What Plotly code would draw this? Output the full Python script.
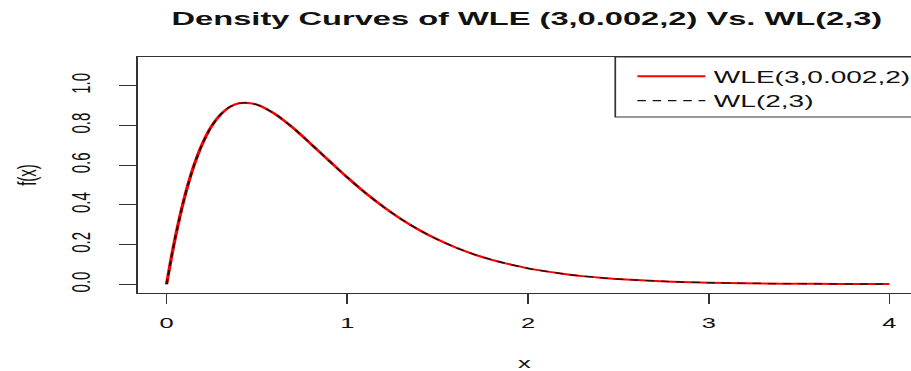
import plotly.graph_objects as go

# Density readings for both distributions
x_vals = [0, 0.025, 0.05, 0.1, 0.15, 0.2, 0.25, 0.3, 0.35, 0.4, 0.45, 0.5, 0.55,
          0.6, 0.65, 0.7, 0.75, 0.8, 0.85, 0.9, 0.95, 1.0, 1.1, 1.2, 1.3, 1.4,
          1.5, 1.6, 1.7, 1.8, 1.9, 2.0, 2.1, 2.2, 2.3, 2.4, 2.5, 2.6, 2.8, 3.0,
          3.2, 3.4, 3.6, 3.8, 4.0]
wle_density = [0, 0.128, 0.244, 0.440, 0.594, 0.711, 0.797, 0.856, 0.893, 0.911,
               0.913, 0.904, 0.884, 0.857, 0.824, 0.787, 0.747, 0.705, 0.663,
               0.621, 0.579, 0.538, 0.460, 0.390, 0.327, 0.272, 0.225, 0.185,
               0.151, 0.123, 0.100, 0.080, 0.065, 0.052, 0.041, 0.033, 0.026,
               0.021, 0.013, 0.008, 0.005, 0.003, 0.002, 0.001, 0.001]
wl_density = [0, 0.128, 0.244, 0.440, 0.594, 0.711, 0.797, 0.856, 0.893, 0.911,
              0.913, 0.904, 0.884, 0.857, 0.824, 0.787, 0.747, 0.705, 0.663,
              0.621, 0.579, 0.538, 0.460, 0.390, 0.327, 0.272, 0.225, 0.185,
              0.151, 0.123, 0.100, 0.080, 0.065, 0.052, 0.041, 0.033, 0.026,
              0.021, 0.013, 0.008, 0.005, 0.003, 0.002, 0.001, 0.001]

series_names = ["WLE(3,0.002,2)", "WL(2,3)"]
x_ticks = [0, 1, 2, 3, 4]
y_ticks = [0.0, 0.2, 0.4, 0.6, 0.8, 1.0]
y_tick_labels = ["0.0", "0.2", "0.4", "0.6", "0.8", "1.0"]

FONT = "Liberation Sans, Arial, Helvetica, sans-serif"
AXIS = "#333333"
TEXT = "#111111"

# The figure is laid out narrow and stretched horizontally on the page
W, H = 536, 371
STRETCH = 911 / W
PLOT_L, PLOT_T, PLOT_B = 81, 57, 78
PLOT_W = W - PLOT_L
PLOT_H = H - PLOT_T - PLOT_B

fig = go.Figure()
fig.add_trace(go.Scatter(
    x=x_vals, y=wle_density, name=series_names[0], mode="lines",
    line=dict(color="#ff0000", width=2, shape="spline", smoothing=0.6),
))
fig.add_trace(go.Scatter(
    x=x_vals, y=wl_density, name=series_names[1], mode="lines",
    line=dict(color="#111111", width=1.2, dash="5px,4px", shape="spline", smoothing=0.6),
))

# Legend frame anchored to the top-right corner of the plot box
box_left = (362 - PLOT_L) / PLOT_W
box_bottom = 1 - (117 - PLOT_T) / PLOT_H
fig.add_shape(type="rect", xref="paper", yref="paper",
              x0=box_left, x1=1.2, y0=box_bottom, y1=1,
              line=dict(color=AXIS, width=1), fillcolor="rgba(0,0,0,0)", layer="above")

fig.update_layout(
    width=W, height=H,
    margin=dict(l=PLOT_L, r=0, t=PLOT_T, b=PLOT_B, pad=0, autoexpand=False),
    paper_bgcolor="white", plot_bgcolor="white",
    font=dict(family=FONT, size=15, color=TEXT),
    title=dict(
        text="<b>Density Curves of WLE (3,0.002,2) Vs. WL(2,3)</b>",
        font=dict(family=FONT, size=19.2, color=TEXT),
        xref="container", x=310 / W, xanchor="center",
        yref="container", y=1 - 18.5 / H, yanchor="middle",
    ),
    xaxis=dict(
        range=[-0.16, (W - 97.7) / 106.4],
        tickvals=x_ticks, ticks="outside", ticklen=10, tickwidth=1, tickcolor=AXIS,
        showline=True, linecolor=AXIS, linewidth=1, mirror=True,
        showgrid=False, zeroline=False, ticklabelstandoff=6,
        tickfont=dict(family=FONT, size=15, color=TEXT),
        title=dict(text="x", font=dict(family=FONT, size=15, color=TEXT), standoff=27),
    ),
    yaxis=dict(
        range=[-0.044, 1.144],
        tickvals=y_ticks, ticktext=y_tick_labels, tickangle=-90,
        ticks="outside", ticklen=10, tickwidth=1, tickcolor=AXIS,
        showline=True, linecolor=AXIS, linewidth=1, mirror=False,
        showgrid=False, zeroline=False, ticklabelstandoff=11,
        tickfont=dict(family=FONT, size=15, color=TEXT),
        title=dict(text="f(x)", font=dict(family=FONT, size=15, color=TEXT), standoff=13),
    ),
    legend=dict(
        x=(370 - PLOT_L) / PLOT_W, xanchor="left",
        y=1 - 2 / PLOT_H, yanchor="top",
        borderwidth=0, bgcolor="rgba(0,0,0,0)",
        font=dict(family=FONT, size=16.5, color=TEXT),
        tracegroupgap=0, itemwidth=40,
    ),
    showlegend=True,
)

stretch_js = (
    "var gd = document.getElementById('{plot_id}');"
    "document.body.style.margin = '0';"
    "document.body.style.overflow = 'hidden';"
    "gd.style.transformOrigin = '0 0';"
    "gd.style.transform = 'scaleX(%.5f)';" % STRETCH
)

fig.write_html("out.html", post_script=stretch_js)
